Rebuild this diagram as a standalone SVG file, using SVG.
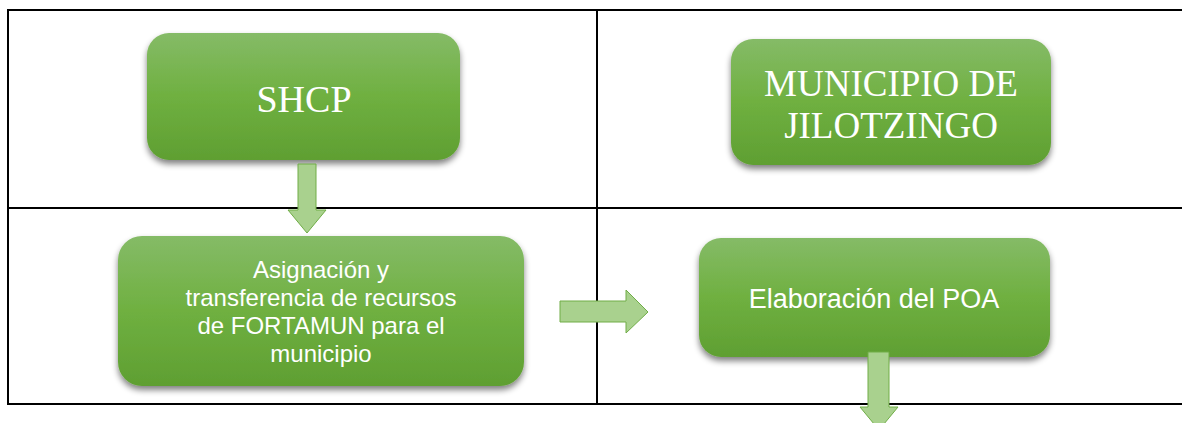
<svg xmlns="http://www.w3.org/2000/svg" width="1182" height="423" viewBox="0 0 1182 423">
<defs>
<linearGradient id="g" x1="0" y1="0" x2="0" y2="1">
<stop offset="0" stop-color="#85bb67"/>
<stop offset="0.5" stop-color="#6fb040"/>
<stop offset="1" stop-color="#5f9f32"/>
</linearGradient>
<filter id="sh" x="-10%" y="-10%" width="120%" height="130%">
<feGaussianBlur in="SourceAlpha" stdDeviation="3"/>
<feOffset dx="0" dy="4"/>
<feComponentTransfer><feFuncA type="linear" slope="0.5"/></feComponentTransfer>
<feMerge><feMergeNode/><feMergeNode in="SourceGraphic"/></feMerge>
</filter>
<style>
.box{fill:url(#g);filter:url(#sh)}
.tb{font-family:"Liberation Serif","Times New Roman",serif;fill:#fff;text-anchor:middle}
.ts{font-family:"Liberation Sans",Arial,sans-serif;fill:#fff;text-anchor:middle}
.arr{fill:#a9d18e;stroke:#70ad47;stroke-width:1}
.grid{stroke:#000;stroke-width:2;fill:none}
</style>
</defs>
<rect width="1182" height="423" fill="#fff"/>
<g id="table" class="grid">
<line x1="8" y1="10" x2="1182" y2="10"/>
<line x1="8" y1="208" x2="1182" y2="208"/>
<line x1="8" y1="404" x2="1182" y2="404"/>
<line x1="8" y1="9" x2="8" y2="405"/>
<line x1="597" y1="9" x2="597" y2="405"/>
</g>
<g id="n-shcp">
<rect class="box" x="147" y="33" width="313" height="127" rx="22"/>
<text class="tb" x="304" y="112" font-size="38">SHCP</text>
</g>
<g id="n-municipio">
<rect class="box" x="731" y="39" width="320" height="126" rx="22"/>
<text class="tb" x="891" y="96" font-size="37">MUNICIPIO DE</text>
<text class="tb" x="891" y="138" font-size="37">JILOTZINGO</text>
</g>
<g id="n-asignacion">
<rect class="box" x="118" y="236" width="406" height="150" rx="24"/>
<text class="ts" x="321" y="278" font-size="24">Asignación y</text>
<text class="ts" x="321" y="306" font-size="24">transferencia de recursos</text>
<text class="ts" x="321" y="334" font-size="24">de FORTAMUN para el</text>
<text class="ts" x="321" y="362" font-size="24">municipio</text>
</g>
<g id="n-poa">
<rect class="box" x="699" y="238" width="351" height="119" rx="22"/>
<text class="ts" x="874" y="308" font-size="27">Elaboración del POA</text>
</g>
<g id="connectors">
<path class="arr" d="M298,164 H316 V210 H326 L307,233 L288,210 H298 Z"/>
<path class="arr" d="M560,301 H626 V290 L648,312 L626,333 V322 H560 Z"/>
<path class="arr" d="M868,352 H889 V407 H898 L879,430 L860,407 H868 Z"/>
</g>
</svg>
